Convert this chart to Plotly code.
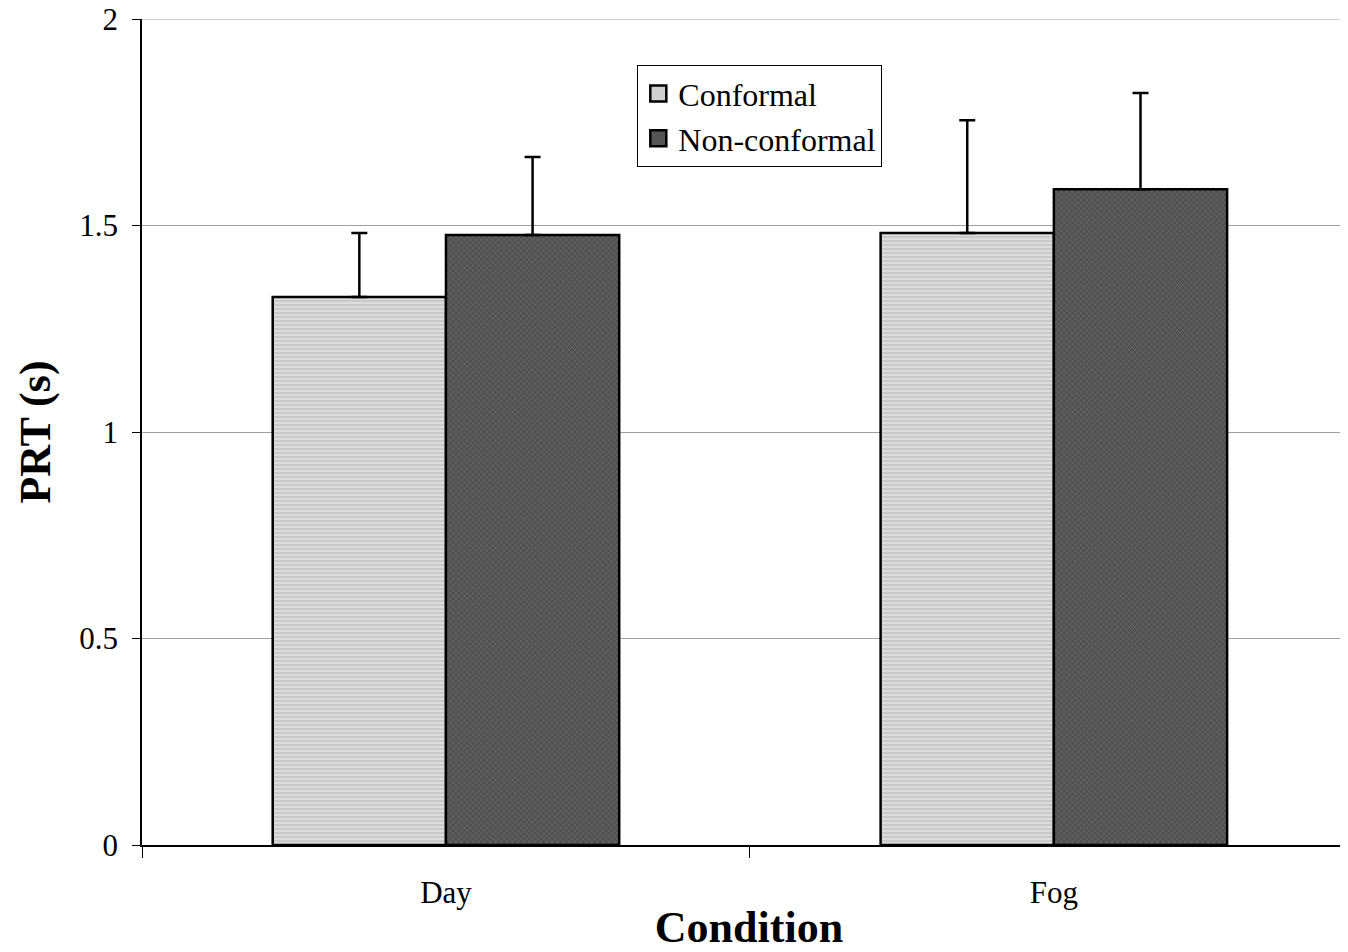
import plotly.graph_objects as go

categories = ["Day", "Fog"]
conformal = [1.327, 1.482]
conformal_err = [0.155, 0.273]
nonconformal = [1.477, 1.588]
nonconformal_err = [0.189, 0.233]
y_ticks = [0, 0.5, 1, 1.5, 2]
y_tick_labels = ["0", "0.5", "1", "1.5", "2"]

font = "Liberation Serif, Times New Roman, serif"
light = "#d4d4d4"
dark = "#5a5a5a"

fig = go.Figure()
fig.add_trace(go.Bar(
    name="Conformal", x=categories, y=conformal, showlegend=False,
    marker=dict(color=light, line=dict(color="black", width=2.5),
                pattern=dict(shape="-", fgcolor="#a8a8a8", bgcolor="#dcdcdc", size=4, solidity=0.35)),
    error_y=dict(type="data", array=conformal_err, symmetric=False, arrayminus=[0, 0],
                 color="black", thickness=2.5, width=8),
))
fig.add_trace(go.Bar(
    name="Non-conformal", x=categories, y=nonconformal, showlegend=False,
    marker=dict(color=dark, line=dict(color="black", width=2.5),
                pattern=dict(shape="x", fgcolor="#7a7a7a", bgcolor="#505050", size=4, solidity=0.4)),
    error_y=dict(type="data", array=nonconformal_err, symmetric=False, arrayminus=[0, 0],
                 color="black", thickness=2.5, width=8),
))
# legend entries with larger square swatches
for nm, col, grp in [("Conformal", "#cfcfcf", "a"), ("Non-conformal", "#555555", "b")]:
    fig.add_trace(go.Scatter(
        name=nm, x=[None], y=[None], mode="markers", legendgroup=grp,
        marker=dict(symbol="square", size=18, color=col, line=dict(color="black", width=2.5)),
    ))

# gridline at the top of the value axis
fig.add_shape(type="line", xref="paper", x0=0, x1=1, yref="y",
              y0=y_ticks[-1], y1=y_ticks[-1], line=dict(color="#a0a0a0", width=1), layer="below")

fig.update_layout(
    width=1348, height=952,
    margin=dict(l=134, r=0, t=11, b=115, autoexpand=False),
    paper_bgcolor="white", plot_bgcolor="white",
    barmode="group", bargap=0.43, bargroupgap=0,
    font=dict(family=font, size=31, color="black"),
    legend=dict(x=0.408, y=0.944, xanchor="left", yanchor="top",
                bordercolor="black", borderwidth=1, bgcolor="white",
                font=dict(family=font, size=32, color="black"),
                tracegroupgap=0, itemwidth=30, itemsizing="trace"),
    xaxis=dict(
        range=[-0.5, 1.497], tickson="boundaries", ticks="outside", ticklen=11,
        tickcolor="black", showline=True, linecolor="black", linewidth=1.5,
        showgrid=False, tickfont=dict(family=font, size=31), ticklabelstandoff=19,
        title=dict(text="<b>Condition</b>", font=dict(family=font, size=44), standoff=2),
        automargin=False,
    ),
    yaxis=dict(
        range=[0, 2], tickvals=y_ticks, ticktext=y_tick_labels, ticks="outside", ticklen=8,
        tickcolor="black", showline=True, linecolor="black", linewidth=1.5,
        showgrid=True, gridcolor="#a0a0a0", gridwidth=1, zeroline=False,
        tickfont=dict(family=font, size=31), ticklabelstandoff=8, ticklabeloverflow="allow",
        title=dict(text="<b>PRT (s)</b>", font=dict(family=font, size=44), standoff=15),
        automargin=False,
    ),
)

fig.write_html("out.html")
